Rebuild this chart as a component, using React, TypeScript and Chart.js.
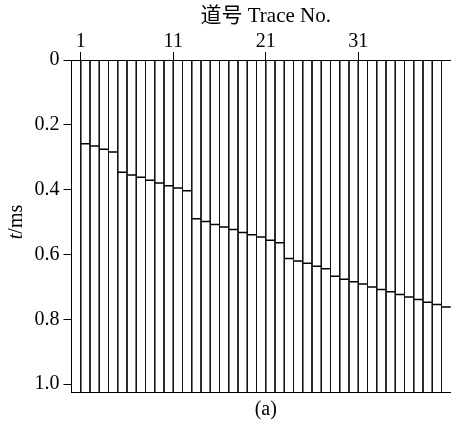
import React, { useEffect, useRef } from 'react';
import { Chart, registerables } from 'chart.js';

Chart.register(...registerables);

// Trace numbers along the top axis
const traceNumbers = [
  1, 2, 3, 4, 5, 6, 7, 8, 9, 10,
  11, 12, 13, 14, 15, 16, 17, 18, 19, 20,
  21, 22, 23, 24, 25, 26, 27, 28, 29, 30,
  31, 32, 33, 34, 35, 36, 37, 38, 39, 40,
];

// First-arrival time (ms) picked on each trace
const arrivalTimes = [
  0.258, 0.265, 0.275, 0.284, 0.346, 0.355, 0.362, 0.371, 0.379, 0.388,
  0.395, 0.403, 0.490, 0.498, 0.507, 0.515, 0.523, 0.532, 0.539, 0.546,
  0.556, 0.564, 0.612, 0.620, 0.627, 0.636, 0.644, 0.667, 0.676, 0.684,
  0.691, 0.700, 0.708, 0.715, 0.723, 0.731, 0.739, 0.747, 0.754, 0.762,
];

const traceTickLabels = [1, 11, 21, 31];
const timeTickLabels = [0, 0.2, 0.4, 0.6, 0.8, 1.0];

const traceMin = 0;
const traceMax = 42;
const timeMin = 0;
const timeMax = 1.024;

const SERIF = "'Liberation Serif', 'Noto Sans CJK SC', serif";

// Vertical axis title with an italic "t"
const timeTitlePlugin = {
  id: 'timeTitle',
  afterDraw(chart: any) {
    const { ctx, chartArea } = chart;
    const cy = (chartArea.top + chartArea.bottom) / 2 - 4;
    const cx = 17;
    ctx.save();
    ctx.translate(cx, cy);
    ctx.rotate(-Math.PI / 2);
    ctx.fillStyle = '#000';
    ctx.textBaseline = 'middle';
    ctx.textAlign = 'left';
    const italic = `italic 20px ${SERIF}`;
    const normal = `20px ${SERIF}`;
    ctx.font = italic;
    const wT = ctx.measureText('t').width;
    ctx.font = normal;
    const wRest = ctx.measureText('/ms').width;
    const start = -(wT + wRest) / 2;
    ctx.font = italic;
    ctx.fillText('t', start, 0);
    ctx.font = normal;
    ctx.fillText('/ms', start + wT, 0);
    ctx.restore();
  },
};

export default function App() {
  const canvasRef = useRef<HTMLCanvasElement>(null);

  useEffect(() => {
    document.body.style.margin = '0';
    const canvas = canvasRef.current;
    if (!canvas) return;

    // One vertical line per trace, separated by gaps
    const traceLineData: { x: number; y: number }[] = [];
    traceNumbers.forEach((n) => {
      traceLineData.push({ x: n, y: timeMin });
      traceLineData.push({ x: n, y: timeMax });
      traceLineData.push({ x: n, y: NaN });
    });

    // Short horizontal wiggle at each arrival
    const wiggleData: { x: number; y: number }[] = [];
    traceNumbers.forEach((n, i) => {
      wiggleData.push({ x: n, y: arrivalTimes[i] });
      wiggleData.push({ x: n + 1, y: arrivalTimes[i] });
      wiggleData.push({ x: n + 1, y: NaN });
    });

    const chart = new Chart(canvas, {
      type: 'scatter',
      data: {
        datasets: [
          {
            data: traceLineData,
            showLine: true,
            spanGaps: false,
            borderColor: '#111',
            borderWidth: 1,
            pointRadius: 0,
            xAxisID: 'x',
            yAxisID: 'y',
          },
          {
            data: wiggleData,
            showLine: true,
            spanGaps: false,
            borderColor: '#000',
            borderWidth: 1.5,
            pointRadius: 0,
            xAxisID: 'x',
            yAxisID: 'y',
          },
        ],
      },
      options: {
        animation: false,
        responsive: true,
        maintainAspectRatio: false,
        layout: { padding: 0 },
        plugins: {
          legend: { display: false },
          tooltip: { enabled: false },
        },
        scales: {
          x: {
            type: 'linear',
            position: 'top',
            min: traceMin,
            max: traceMax,
            afterBuildTicks: (scale: any) => {
              scale.ticks = traceTickLabels.map((v) => ({ value: v }));
            },
            afterFit: (scale: any) => {
              scale.height = 60;
            },
            ticks: {
              color: '#000',
              font: { family: SERIF, size: 20 },
              padding: -2,
              maxRotation: 0,
              autoSkip: false,
              callback: (v: any) => String(v),
            },
            grid: {
              drawOnChartArea: false,
              drawTicks: true,
              tickLength: 8,
              color: '#000',
              lineWidth: 1,
            },
            border: { display: true, color: '#000', width: 1 },
            title: {
              display: true,
              text: '道号 Trace No.',
              color: '#000',
              font: { family: SERIF, size: 21 },
              padding: { top: 4, bottom: 0 },
            },
          },
          xBottom: {
            type: 'linear',
            position: 'bottom',
            min: traceMin,
            max: traceMax,
            afterFit: (scale: any) => {
              scale.height = 33;
            },
            ticks: { display: false },
            grid: { display: false, drawTicks: false },
            border: { display: true, color: '#000', width: 1 },
            title: {
              display: true,
              text: '(a)',
              color: '#000',
              font: { family: SERIF, size: 20 },
              padding: { top: 0, bottom: 3 },
            },
          },
          y: {
            type: 'linear',
            position: 'left',
            reverse: true,
            min: timeMin,
            max: timeMax,
            afterBuildTicks: (scale: any) => {
              scale.ticks = timeTickLabels.map((v) => ({ value: v }));
            },
            afterFit: (scale: any) => {
              scale.width = 71.5;
            },
            ticks: {
              color: '#000',
              font: { family: SERIF, size: 20 },
              padding: 4,
              autoSkip: false,
              callback: (v: any) => (v === 0 ? '0' : Number(v).toFixed(1)),
            },
            grid: {
              drawOnChartArea: false,
              drawTicks: true,
              tickLength: 8,
              color: '#000',
              lineWidth: 1,
            },
            border: { display: true, color: '#000', width: 1 },
          },
        },
      },
      plugins: [timeTitlePlugin],
    } as any);

    return () => chart.destroy();
  }, []);

  return (
    <div style={{ position: 'absolute', left: 0, top: 0, width: 451, height: 425, overflow: 'hidden', background: '#fff' }}>
      <div style={{ position: 'relative', width: 460, height: 425 }}>
        <canvas ref={canvasRef} />
      </div>
    </div>
  );
}
